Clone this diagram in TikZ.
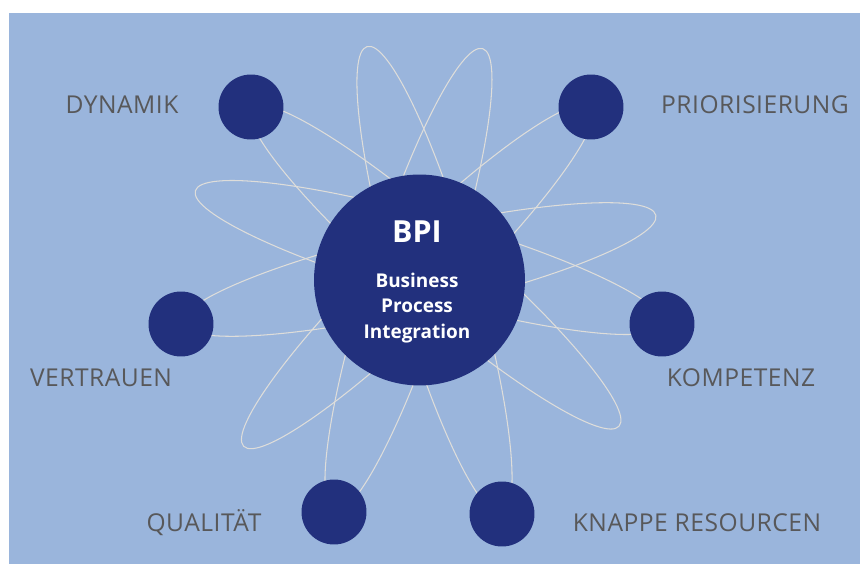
\documentclass[tikz,border=0pt]{standalone}
\usepackage{fontspec}
\setmainfont{Open Sans}
\usetikzlibrary{calc}

\definecolor{bgblue}{HTML}{9AB5DC}
\definecolor{navy}{HTML}{22307D}
\definecolor{orbitgray}{HTML}{DEDDDA}
\definecolor{labelgray}{HTML}{58585A}

\begin{document}
\begin{tikzpicture}[x=0.02cm, y=-0.02cm, line join=round, line cap=round,
    ball/.style={circle, fill=navy, inner sep=0pt, minimum size=1.3cm},
    hub/.style={circle, fill=navy, inner sep=0pt, minimum size=4.22cm},
    orbit/.style={draw=orbitgray, line width=0.6pt},
    tag/.style={text=labelgray, anchor=base, font=\fontsize{14}{16}\selectfont\addfontfeatures{LetterSpace=2}}]
    % 1. Rahmen und Hintergrund
    \useasboundingbox (0,0) rectangle (860,564);
    \fill[bgblue] (9,13) rectangle (860,564);

    % 2. Mittelpunkte der Kreise
    \coordinate (mid) at (419.5,280);
    \coordinate (dyn) at (251,107);
    \coordinate (prio) at (591,107);
    \coordinate (vert) at (181,324);
    \coordinate (komp) at (662,324);
    \coordinate (qual) at (334,512);
    \coordinate (knapp) at (502,514);

    % freie Enden der Bahnen
    \coordinate (t1) at (367,46);
    \coordinate (t2) at (483,48);
    \coordinate (t3) at (196,191);
    \coordinate (t4) at (657,215);
    \coordinate (t5) at (620,427);
    \coordinate (t6) at (244,446);

    % 3. Bahnen (Ellipse vom Kreis zum freien Ende)
    \foreach \ball/\tip in {knapp/t1, qual/t2, komp/t3, vert/t4, dyn/t5, prio/t6}
        \draw[orbit] let \p1 = ($(\tip)-(\ball)$), \n1 = {atan2(\y1,\x1)} in
            [rotate around={\n1:($(\ball)!0.5!(\tip)$)}]
            ($(\ball)!0.5!(\tip)$) ellipse (243 and 40);

    % 4. Kreise ueber den Bahnen
    \node[hub] (bpi) at (mid) {};
    \foreach \ball in {dyn, prio, vert, komp, qual, knapp}
        \node[ball] (\ball-c) at (\ball) {};

    % Text im Mittelkreis
    \node[text=white, anchor=base, font=\fontsize{17.3}{20}\selectfont\bfseries] (bpiabbr) at (417,243) {BPI};
    \node[text=white, align=center, font=\fontsize{10.8}{14.6}\selectfont\bfseries] (bpiname) at (417,308) {Business\\Process\\Integration};

    % 5. Beschriftungen
    \node[tag] (ldyn) at (122,114) {DYNAMIK};
    \node[tag] (lprio) at (755,114) {PRIORISIERUNG};
    \node[tag] (lvert) at (101,387) {VERTRAUEN};
    \node[tag] (lkomp) at (741,387) {KOMPETENZ};
    \node[tag] (lqual) at (204,532) {QUALITÄT};
    \node[tag] (lknapp) at (697,532) {KNAPPE RESOURCEN};
\end{tikzpicture}
\end{document}
